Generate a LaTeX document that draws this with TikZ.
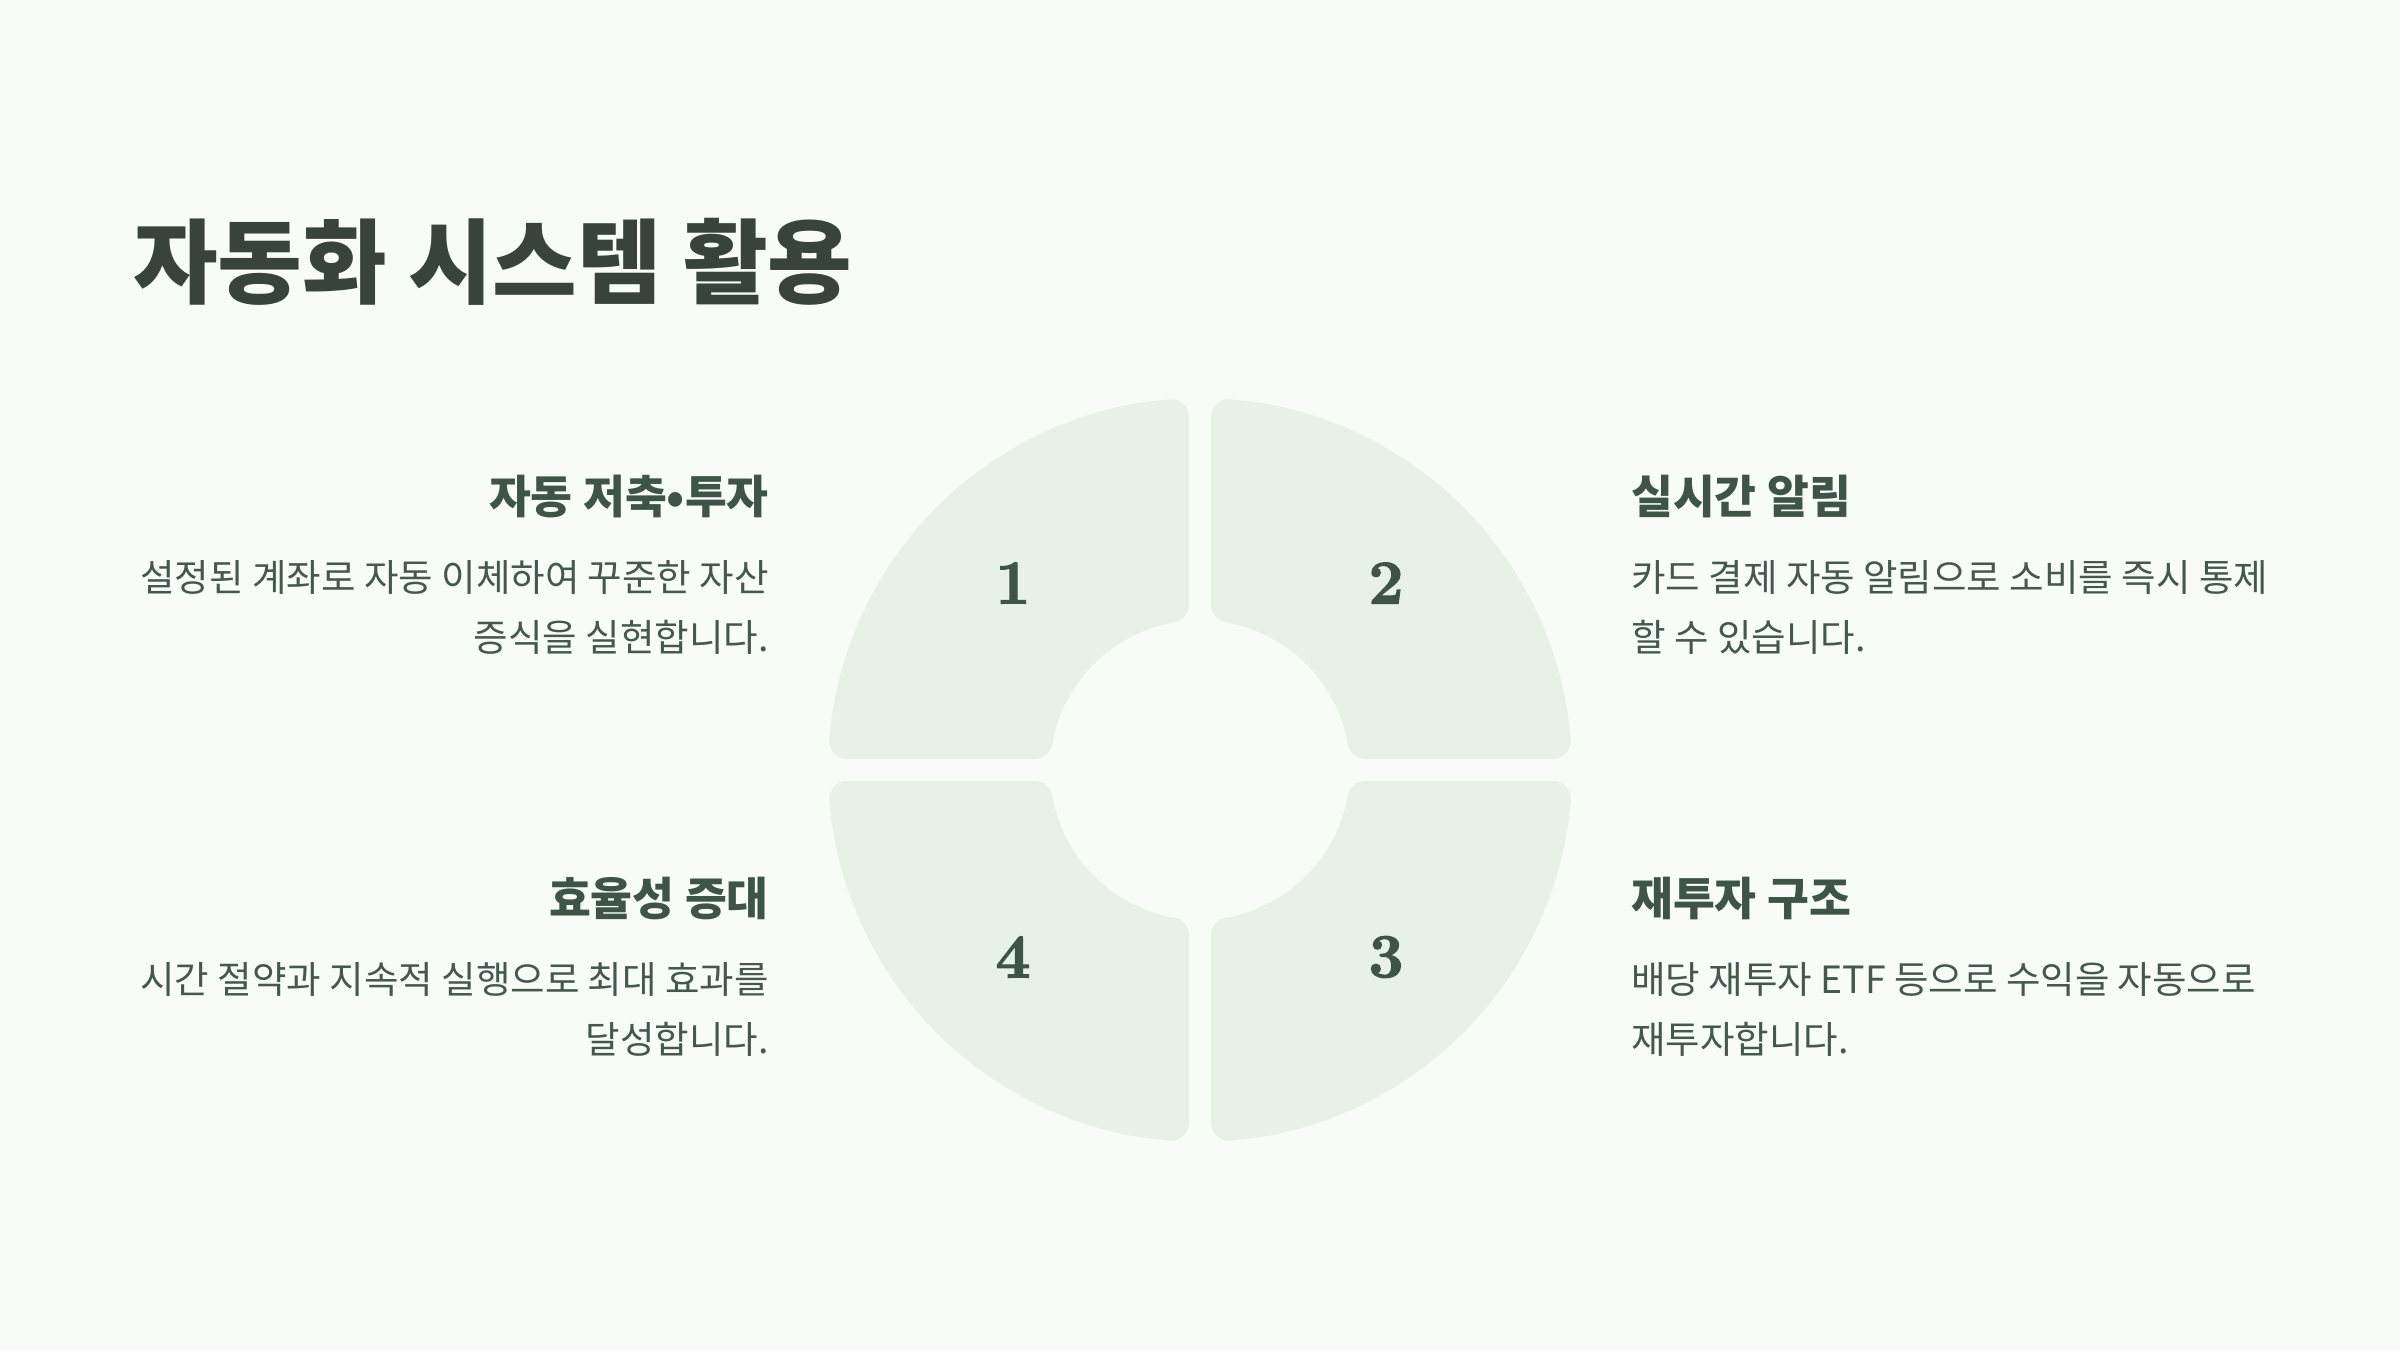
\documentclass[tikz,border=0pt]{standalone}
\usepackage{fontspec}
\newfontfamily\krfont{Noto Sans CJK KR}
\newfontfamily\numfont[FakeBold=2.2]{Latin Modern Roman}
\definecolor{bgc}{HTML}{F8FCF7}
\definecolor{segc}{HTML}{E7F1E6}
\definecolor{titlec}{HTML}{37433C}
\definecolor{headc}{HTML}{3E5446}
\definecolor{bodyc}{HTML}{44584B}
\definecolor{numc}{HTML}{3E5546}
\tikzset{
  seg/.style={fill=segc, draw=segc, line width=36pt, line join=round},
  titletxt/.style={inner sep=0pt, text=titlec, font=\krfont\bfseries\fontsize{92}{108}\selectfont},
  headtxt/.style={inner sep=0pt, text=headc, font=\krfont\bfseries\fontsize{45.5}{52}\selectfont},
  bodytxt/.style={inner sep=0pt, text=bodyc, font=\krfont\fontsize{37.5}{44}\selectfont},
  numtxt/.style={inner sep=0pt, text=numc, font=\numfont\bfseries\fontsize{62}{62}\selectfont}
}
\newcommand\quadshape{%
  \pgfmathsetmacro\ao{asin(29/354)}%
  \pgfmathsetmacro\bo{90-\ao}%
  \pgfmathsetmacro\ai{asin(29/168)}%
  \pgfmathsetmacro\bi{90-\ai}%
  \path[seg] (\ao:354) arc[start angle=\ao, end angle=\bo, radius=354]
    -- (\bi:168) arc[start angle=\bi, end angle=\ai, radius=168] -- cycle;}
\begin{document}
\begin{tikzpicture}[x=1pt,y=1pt]
\fill[bgc] (0,0) rectangle (2400,1350);
\useasboundingbox (0,0) rectangle (2400,1350);
\coordinate (c) at (1200,580);
\begin{scope}[shift={(c)}]
  \quadshape
\end{scope}
\begin{scope}[shift={(c)}, xscale=-1]
  \quadshape
\end{scope}
\begin{scope}[shift={(c)}, yscale=-1]
  \quadshape
\end{scope}
\begin{scope}[shift={(c)}, xscale=-1, yscale=-1]
  \quadshape
\end{scope}
\node[numtxt] (n1) at (1013,767) {1};
\node[numtxt] (n2) at (1386,767) {2};
\node[numtxt] (n3) at (1386,393) {3};
\node[numtxt] (n4) at (1013,393) {4};
\node[titletxt, anchor=base west] (title) at (133,1053) {자동화 시스템 활용};
\node[headtxt, anchor=base east] (h1) at (769,836) {자동 저축•투자};
\node[bodytxt, anchor=base east] (b1a) at (769,758) {설정된 계좌로 자동 이체하여 꾸준한 자산};
\node[bodytxt, anchor=base east] (b1b) at (769,698) {증식을 실현합니다.};
\node[headtxt, anchor=base west] (h2) at (1631,836) {실시간 알림};
\node[bodytxt, anchor=base west] (b2a) at (1631,758) {카드 결제 자동 알림으로 소비를 즉시 통제};
\node[bodytxt, anchor=base west] (b2b) at (1631,698) {할 수 있습니다.};
\node[headtxt, anchor=base east] (h4) at (769,434) {효율성 증대};
\node[bodytxt, anchor=base east] (b4a) at (769,357) {시간 절약과 지속적 실행으로 최대 효과를};
\node[bodytxt, anchor=base east] (b4b) at (769,297) {달성합니다.};
\node[headtxt, anchor=base west] (h3) at (1631,434) {재투자 구조};
\node[bodytxt, anchor=base west] (b3a) at (1631,357) {배당 재투자 ETF 등으로 수익을 자동으로};
\node[bodytxt, anchor=base west] (b3b) at (1631,297) {재투자합니다.};
\end{tikzpicture}
\end{document}
